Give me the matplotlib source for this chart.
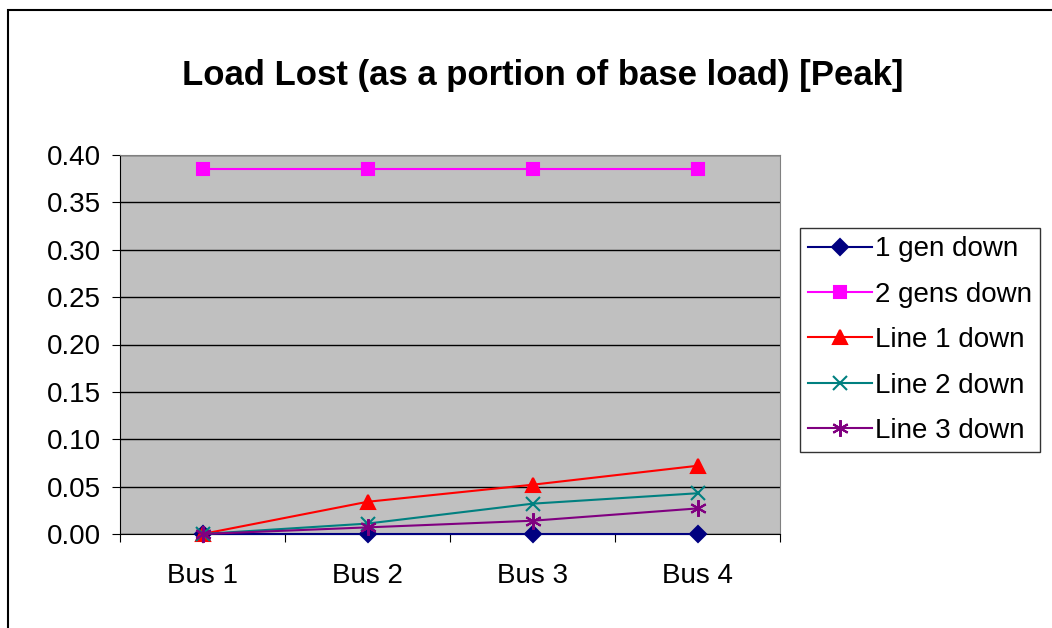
import matplotlib
matplotlib.use("Agg")
import matplotlib.pyplot as plt
from matplotlib.patches import Rectangle
import numpy as np

plt.rcParams['font.family'] = ['Liberation Sans', 'DejaVu Sans']

buses = ['Bus 1', 'Bus 2', 'Bus 3', 'Bus 4']
gen1_down = [0.0, 0.0, 0.0, 0.0]
gen2_down = [0.385, 0.385, 0.385, 0.385]
line1_down = [0.0, 0.034, 0.052, 0.072]
line2_down = [0.0, 0.011, 0.032, 0.043]
line3_down = [0.0, 0.007, 0.014, 0.027]

series = [
    ('1 gen down', gen1_down, '#000080', 'D', 8),
    ('2 gens down', gen2_down, '#FF00FF', 's', 8.5),
    ('Line 1 down', line1_down, '#FF0000', '^', 10),
    ('Line 2 down', line2_down, '#008080', 'x', 10),
    ('Line 3 down', line3_down, '#800080', (6, 2, 0), 12),
]

fig = plt.figure(figsize=(10.52, 6.28), dpi=100)
# chart area frame (right and bottom edges fall outside the image)
fig.patches.append(Rectangle((8 / 1052, -0.05), 1.2, 1 - 10 / 628 + 0.05,
                             transform=fig.transFigure, fill=False,
                             edgecolor='black', linewidth=1.5))

ax = fig.add_axes([120 / 1052, 1 - 534 / 628, 660 / 1052, 379 / 628])
ax.set_facecolor('#C0C0C0')

x = np.arange(1, len(buses) + 1)
handles = []
for label, vals, color, marker, ms in series:
    h, = ax.plot(x, vals, color=color, marker=marker, markersize=ms, linewidth=1.5,
                 markeredgewidth=1.5, label=label, zorder=3, clip_on=False)
    handles.append(h)

ax.set_xlim(0.5, 4.5)
ax.set_ylim(0, 0.40)
ax.set_yticks(np.arange(0, 0.41, 0.05))
ax.set_yticklabels(['%.2f' % v for v in np.arange(0, 0.41, 0.05)])
ax.yaxis.grid(True, color='black', linewidth=1)
ax.set_axisbelow(True)

ax.set_xticks(np.arange(0.5, 4.6, 1.0))
ax.set_xticklabels([])
ax.set_xticks(x, minor=True)
ax.set_xticklabels(buses, minor=True)
ax.tick_params(axis='x', which='minor', length=0, pad=21, labelsize=20)
ax.tick_params(axis='x', which='major', length=6, direction='out')
ax.tick_params(axis='y', length=6, direction='out', labelsize=20, pad=8)

for side in ['top', 'right']:
    ax.spines[side].set_color('#808080')
ax.spines['left'].set_color('black')
ax.spines['bottom'].set_color('black')

fig.text(543 / 1052, 1 - 75 / 628, 'Load Lost (as a portion of base load) [Peak]',
         ha='center', va='center', fontsize=25, fontweight='bold')

leg = fig.legend(handles=handles, loc='upper left',
                 bbox_to_anchor=(800 / 1052, 1 - 228 / 628),
                 fontsize=20, frameon=True, fancybox=False, edgecolor='black',
                 handlelength=2.3, handletextpad=0.1, labelspacing=0.7,
                 borderpad=0.3, borderaxespad=0)
leg.get_frame().set_linewidth(1)

fig.savefig('out.png', dpi=100)
